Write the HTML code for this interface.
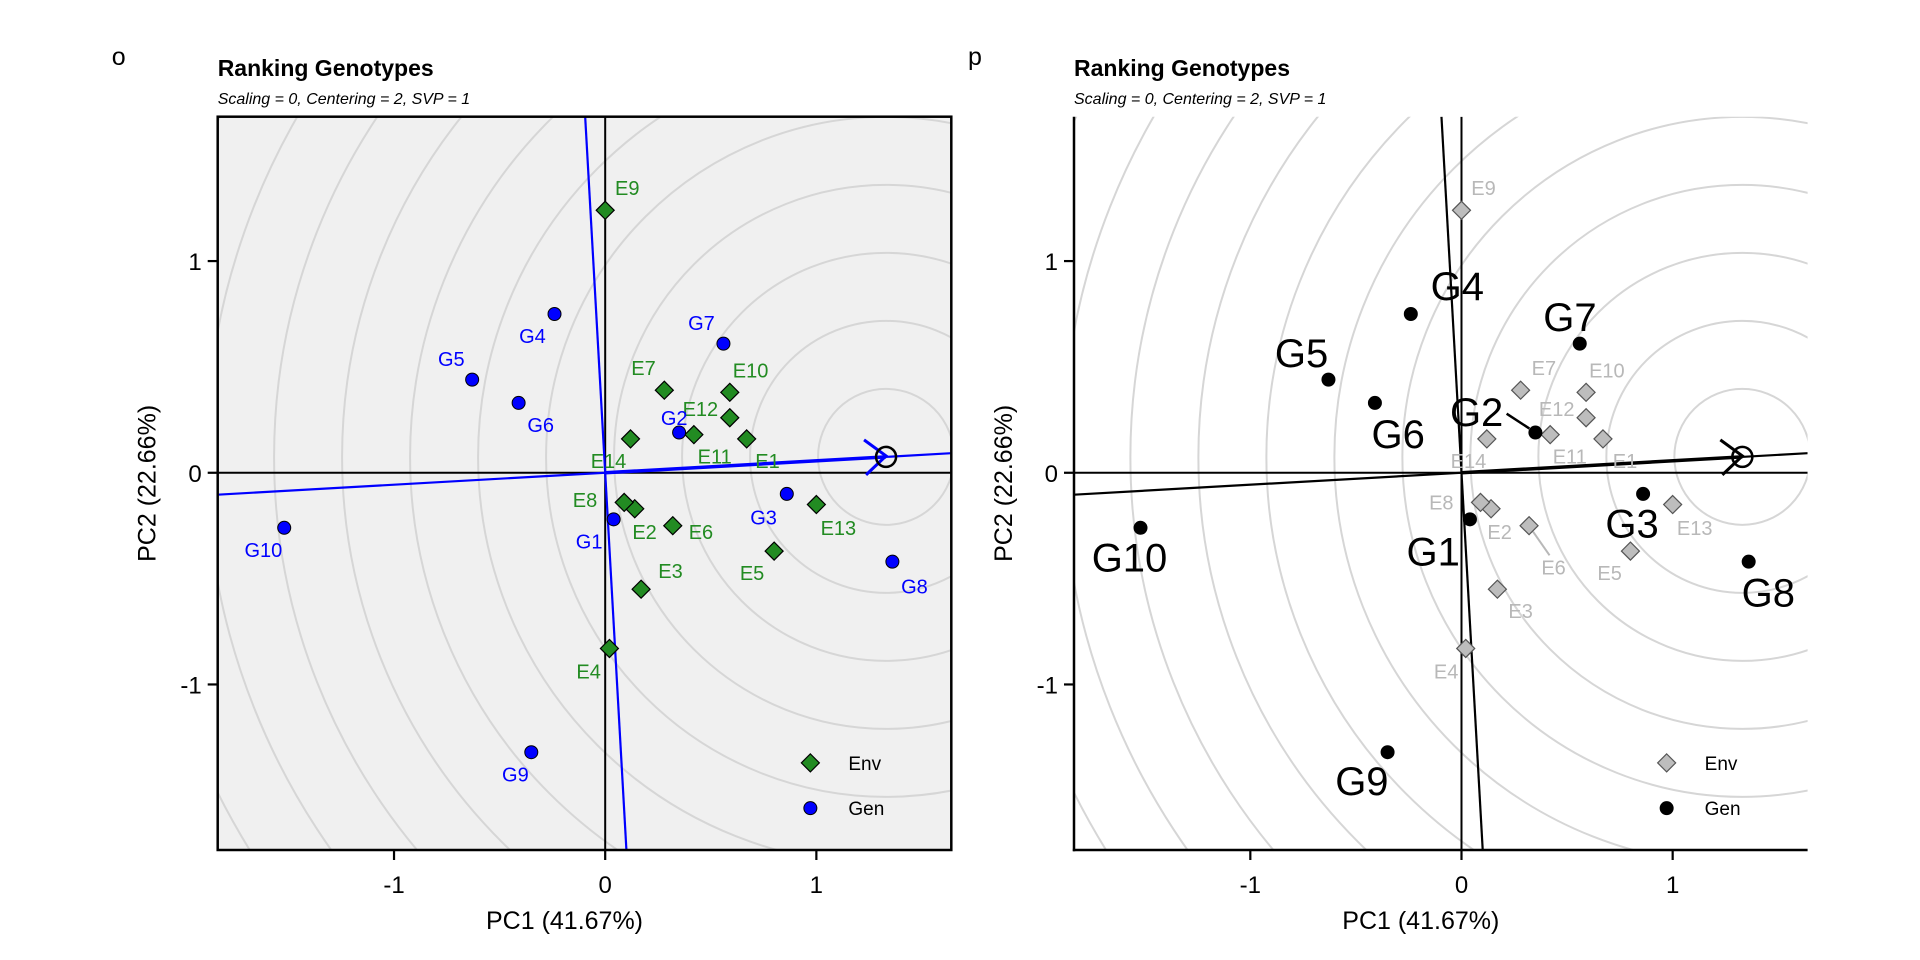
<!DOCTYPE html>
<html><head><meta charset="utf-8">
<style>
html,body{margin:0;padding:0;background:#fff;width:1920px;height:960px;overflow:hidden;}
svg{display:block;font-family:"Liberation Sans",Arial,sans-serif;}
</style></head>
<body>
<svg id="chart" width="1920" height="960" viewBox="0 0 1920 960" xmlns="http://www.w3.org/2000/svg"></svg>
<script>
const envNames = ["E1","E2","E3","E4","E5","E6","E7","E8","E9","E10","E11","E12","E13","E14"];
const envPC1 = [0.67,0.14,0.17,0.02,0.80,0.32,0.28,0.09,0.00,0.59,0.42,0.59,1.00,0.12];
const envPC2 = [0.16,-0.17,-0.55,-0.83,-0.37,-0.25,0.39,-0.14,1.24,0.38,0.18,0.26,-0.15,0.16];
const genNames = ["G1","G2","G3","G4","G5","G6","G7","G8","G9","G10"];
const genPC1 = [0.04,0.35,0.86,-0.24,-0.63,-0.41,0.56,1.36,-0.35,-1.52];
const genPC2 = [-0.22,0.19,-0.10,0.75,0.44,0.33,0.61,-0.42,-1.32,-0.26];
const idealPC1 = 1.33;
const idealPC2 = 0.075;
const xTicks = [-1,0,1];
const yTicks = [-1,0,1];
const xTickLabels = ["-1","0","1"];
const yTickLabels = ["-1","0","1"];

// label offsets (display px) per panel
const envOffL = [[17,18],[8,19],[24,-15],[-17,19],[-18,18],[23,5],[-17,-18],[-32,-2],[18,-18],[17,-18],[17,18],[-24,-7],[18,19],[-18,18]];
const genOffL = [[-20,18],[-4,-12],[-19,19],[-18,18],[-17,-17],[18,18],[-18,-17],[18,20],[-13,18],[-17,18]];
const envOffR = [[18,18],[7,19],[19,18],[-16,19],[-17,18],[20,34],[19,-18],[-32,0],[18,-18],[17,-18],[16,18],[-24,-7],[18,19],[-15,18]];
const genOffR = [[-30,26],[-48,-17],[-9,24],[38,-23],[-22,-22],[19,25],[-8,-22],[16,25],[-21,23],[-9,24]];

const NS = "http://www.w3.org/2000/svg";
const svg = document.getElementById("chart");
function mk(tag, attrs, parent){
  const e = document.createElementNS(NS, tag);
  for (const k in attrs) e.setAttribute(k, attrs[k]);
  (parent||svg).appendChild(e);
  return e;
}
const S = 1.2245;
const xMin=-1.835,xMax=1.639,yMin=-1.782,yMax=1.682;
const W=733.6,H=733.3,TOP=116.7;

function panel(left, dark, letter){
  const g = mk("g",{});
  
  
  const sx = v => left + (v - xMin)/(xMax - xMin)*W;
  const sy = v => TOP + (yMax - v)/(yMax - yMin)*H;
  const clipId = "clip"+letter;
  const cp = mk("clipPath",{id:clipId},g);
  mk("rect",{x:left,y:TOP,width:W,height:H},cp);
  if (dark) {
    const bg = mk("rect",{x:left,y:TOP,width:W,height:H,fill:"#f0f0f0"},g);
    
    
  }
  const inner = mk("g",{"clip-path":"url(#"+clipId+")"},g);
  const pxPerUnit = W/(xMax-xMin);
  for (let k=1;k<=14;k++){
    const c = mk("circle",{cx:sx(idealPC1),cy:sy(idealPC2),r:k*0.322*pxPerUnit,fill:"none",stroke:"#d6d6d6","stroke-width":2},inner);
    
    
  }
  const ax = mk("line",{x1:left,x2:left+W,y1:sy(0),y2:sy(0),stroke:"#000","stroke-width":2},inner);
  
  
  const ay = mk("line",{x1:sx(0),x2:sx(0),y1:TOP,y2:TOP+H,stroke:"#000","stroke-width":2},inner);
  
  
  const lc = dark ? "#0000ff" : "#000";
  const sl = idealPC2/idealPC1;
  const aecl = mk("line",{x1:sx(xMin),y1:sy(xMin*sl),x2:sx(xMax),y2:sy(xMax*sl),stroke:lc,"stroke-width":2.2},inner);
  
  
  const pr = mk("line",{x1:sx(-sl*yMax),y1:sy(yMax),x2:sx(-sl*yMin),y2:sy(yMin),stroke:lc,"stroke-width":2.2},inner);
  
  
  const arr = mk("line",{x1:sx(0),y1:sy(0),x2:sx(idealPC1),y2:sy(idealPC2),stroke:lc,"stroke-width":3.5},inner);
  
  
  const ix=sx(idealPC1), iy=sy(idealPC2);
  const ah = mk("polyline",{points:`${ix-22},${iy-17} ${ix},${iy-1} ${ix-20},${iy+18}`,fill:"none",stroke:lc,"stroke-width":3},inner);
  
  
  const ic = mk("circle",{cx:ix,cy:iy,r:10,fill:"none",stroke:"#000","stroke-width":2.5},inner);
  
  

  const envFill = dark ? "#228b22" : "#bdbdbd";
  const envStroke = dark ? "#000" : "#555";
  const envText = dark ? "#228b22" : "#b8b8b8";
  const envOff = dark ? envOffL : envOffR;
  for (let i=0;i<envNames.length;i++){
    const x=sx(envPC1[i]), y=sy(envPC2[i]);
    const lx = x+envOff[i][0]*S, ly = y+envOff[i][1]*S;
    if (!dark && envNames[i]==="E6"){
      const ll = mk("line",{x1:x+4,y1:y+6,x2:lx-4,y2:ly-12,stroke:"#b8b8b8","stroke-width":2},g);
      
      
    }
    const d = mk("polygon",{points:`${x},${y-9} ${x+9},${y} ${x},${y+9} ${x-9},${y}`,fill:envFill,stroke:envStroke,"stroke-width":1.2},g);
    
    
    const t = mk("text",{x:lx,y:ly+7,"text-anchor":"middle","font-size":20,fill:envText},g);
    t.textContent = envNames[i];
    
    
  }
  const genFill = dark ? "#0000ff" : "#000";
  const genOff = dark ? genOffL : genOffR;
  const gfs = dark ? 20 : 40;
  for (let i=0;i<genNames.length;i++){
    const x=sx(genPC1[i]), y=sy(genPC2[i]);
    const lx = x+genOff[i][0]*S, ly = y+genOff[i][1]*S;
    if (!dark && genNames[i]==="G2"){
      const ll = mk("line",{x1:x-6,y1:y-4,x2:lx+30,y2:ly+2,stroke:"#000","stroke-width":2.5},g);
      
      
    }
    const c = mk("circle",{cx:x,cy:y,r:6.5,fill:genFill,stroke:"#000","stroke-width":1},g);
    
    
    const t = mk("text",{x:lx,y:ly+gfs*0.36,"text-anchor":"middle","font-size":gfs,fill:genFill},g);
    t.textContent = genNames[i];
    
    
  }
  if (dark){
    const fr = mk("rect",{x:left,y:TOP,width:W,height:H,fill:"none",stroke:"#000","stroke-width":2.5},g);
    
    
  } else {
    const l1 = mk("line",{x1:left,y1:TOP,x2:left,y2:TOP+H+1.2,stroke:"#000","stroke-width":2.5},g);
    
    
    const l2 = mk("line",{x1:left-1.2,y1:TOP+H,x2:left+W,y2:TOP+H,stroke:"#000","stroke-width":2.5},g);
    
    
  }
  for (let i=0;i<xTicks.length;i++){
    const x=sx(xTicks[i]);
    const tk = mk("line",{x1:x,x2:x,y1:TOP+H,y2:TOP+H+10,stroke:"#000","stroke-width":2.2},g);
    
    
    const t = mk("text",{x:x,y:TOP+H+43,"text-anchor":"middle","font-size":24,fill:"#000"},g);
    t.textContent = xTickLabels[i];
    
    
  }
  for (let i=0;i<yTicks.length;i++){
    const y=sy(yTicks[i]);
    const tk = mk("line",{x1:left-10,x2:left,y1:y,y2:y,stroke:"#000","stroke-width":2.2},g);
    
    
    const t = mk("text",{x:left-16,y:y+9,"text-anchor":"end","font-size":24,fill:"#000"},g);
    t.textContent = yTickLabels[i];
    
    
  }
  const xl = mk("text",{x:left+W/2-20,y:929,"text-anchor":"middle","font-size":25,fill:"#000"},g);
  xl.textContent = "PC1 (41.67%)";
  
  
  const yx = left-62, yy = TOP+H/2;
  const yl = mk("text",{x:yx,y:yy,"text-anchor":"middle","font-size":25,fill:"#000",transform:`rotate(-90 ${yx} ${yy})`},g);
  yl.textContent = "PC2 (22.66%)";
  
  
  const ti = mk("text",{x:left,y:76,"font-size":23,"font-weight":"bold",fill:"#000"},g);
  ti.textContent = "Ranking Genotypes";
  
  
  const st = mk("text",{x:left,y:104,"font-size":16,"font-style":"italic",fill:"#000"},g);
  st.textContent = "Scaling = 0, Centering = 2, SVP = 1";
  
  
  const lt = mk("text",{x:left-106,y:65,"font-size":25,fill:"#000"},g);
  lt.textContent = letter;
  
  
  const lgx = left + (662-178)*S, ly1 = 623*S, ly2 = 660*S;
  const ld = mk("polygon",{points:`${lgx},${ly1-9} ${lgx+9},${ly1} ${lgx},${ly1+9} ${lgx-9},${ly1}`,fill:envFill,stroke:envStroke,"stroke-width":1.2},g);
  
  
  const le = mk("text",{x:lgx+38,y:ly1+7,"font-size":19,fill:"#000"},g);
  le.textContent = "Env";
  
  
  const lcirc = mk("circle",{cx:lgx,cy:ly2,r:6.5,fill:genFill,stroke:"#000","stroke-width":1},g);
  
  
  const lg = mk("text",{x:lgx+38,y:ly2+7,"font-size":19,fill:"#000"},g);
  lg.textContent = "Gen";
  
  
}
panel(217.7, true, "o");
panel(1074.0, false, "p");
</script>
</body></html>
